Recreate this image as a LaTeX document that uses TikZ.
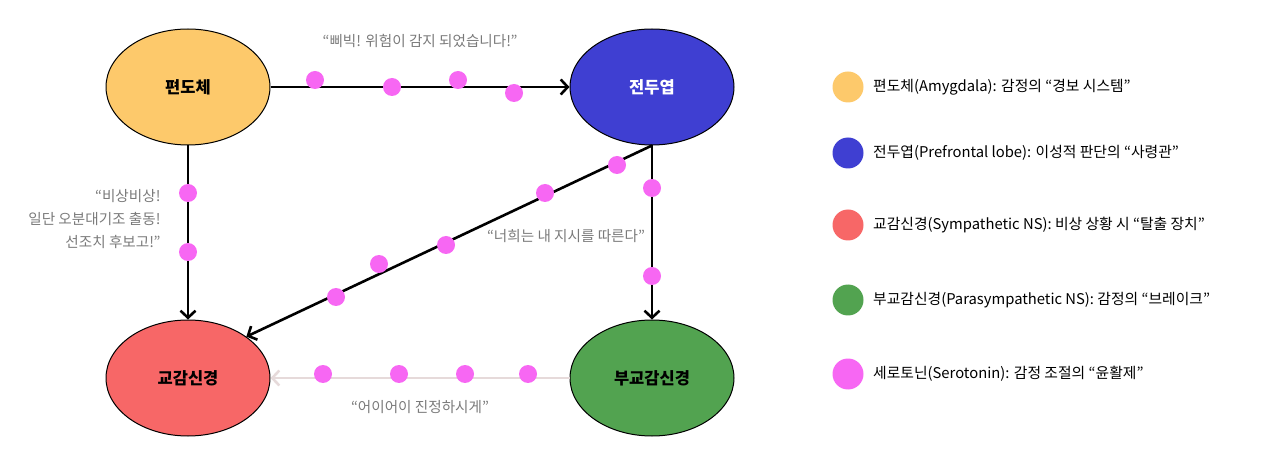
\documentclass[tikz,border=0pt]{standalone}
\usepackage{fontspec}
\setmainfont{Noto Sans CJK KR}
\usetikzlibrary{arrows.meta,shapes.geometric}
\definecolor{cyel}{HTML}{FDC96B}
\definecolor{cblue}{HTML}{3F3FD2}
\definecolor{cred}{HTML}{F76767}
\definecolor{cgreen}{HTML}{52A350}
\definecolor{cpink}{HTML}{F767F3}
\definecolor{cgray}{HTML}{7A7A7A}
\definecolor{clight}{HTML}{E6DADA}
\tikzset{
  brain/.style={ellipse, draw=black, line width=1pt, minimum width=164pt, minimum height=116pt, font=\fontsize{16.5}{19}\selectfont\bfseries, inner sep=0pt},
  conn/.style={line width=2.6pt, -{Straight Barb[length=7pt,width=15pt,line width=2.6pt]}},
  dot/.style={circle, fill=cpink, minimum size=18pt, inner sep=0pt},
  quote/.style={text=cgray, font=\fontsize{14.6}{23}\selectfont},
  legdot/.style={circle, minimum size=31pt, inner sep=0pt},
  legtext/.style={anchor=west, font=\fontsize{14.8}{17}\selectfont, inner sep=0pt}
}
\begin{document}
\begin{tikzpicture}[x=1pt,y=-1pt]
\useasboundingbox (0,0) rectangle (1280,454);
\node[brain, fill=cyel] (amy) at (188,87) {편도체};
\node[brain, fill=cblue, text=white] (pfc) at (652,87) {전두엽};
\node[brain, fill=cred] (sym) at (188,378) {교감신경};
\node[brain, fill=cgreen] (para) at (652,378) {부교감신경};

\draw[conn] (amy) -- (pfc);
\draw[conn] (amy) -- (sym);
\draw[conn] (pfc.south) -- (sym.north east);
\draw[conn] (pfc) -- (para);
\draw[conn, draw=clight] (para) -- (sym);

\foreach \p in {(315,80),(392,87),(458,80),(514,93),
                (188,193),(188,252),
                (617,165),(545,193),(446,245),(379,264),(336,297),
                (652,188),(652,276),
                (323,374),(399,374),(465,374),(528,374)}
  \node[dot] at \p {};

\node[quote] (q1) at (420,41) {“삐빅! 위험이 감지 되었습니다!”};
\node[quote, align=right, anchor=east] (q2) at (164,219) {“비상비상!\\일단 오분대기조 출동!\\선조치 후보고!”};
\node[quote] (q3) at (566,236) {“너희는 내 지시를 따른다”};
\node[quote] (q4) at (420,407) {“어이어이 진정하시게”};

\node[legdot, fill=cyel] (l1) at (848,87) {};
\node[legdot, fill=cblue] (l2) at (848,153) {};
\node[legdot, fill=cred] (l3) at (848,225) {};
\node[legdot, fill=cgreen] (l4) at (848,300) {};
\node[legdot, fill=cpink] (l5) at (848,374) {};
\node[legtext] (t1) at (873,87) {편도체(Amygdala): 감정의 “경보 시스템”};
\node[legtext] (t2) at (873,153) {전두엽(Prefrontal lobe): 이성적 판단의 “사령관”};
\node[legtext] (t3) at (873,225) {교감신경(Sympathetic NS): 비상 상황 시 “탈출 장치”};
\node[legtext] (t4) at (873,300) {부교감신경(Parasympathetic NS): 감정의 “브레이크”};
\node[legtext] (t5) at (873,374) {세로토닌(Serotonin): 감정 조절의 “윤활제”};
\end{tikzpicture}
\end{document}
